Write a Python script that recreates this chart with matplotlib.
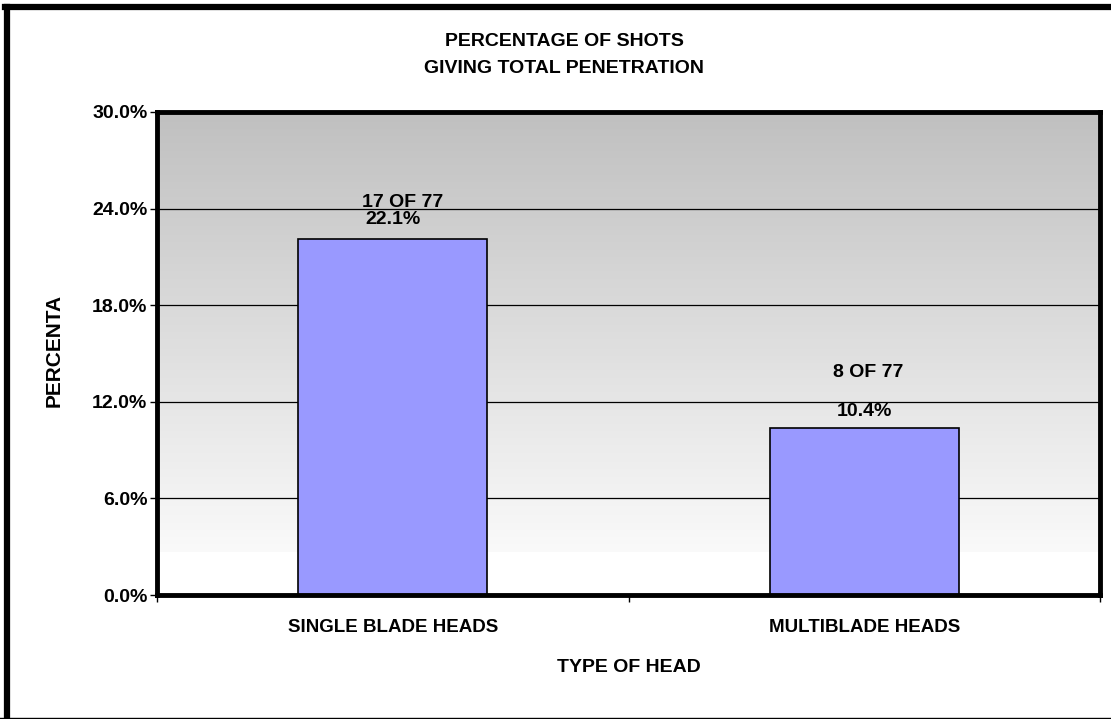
import numpy as np
import matplotlib.pyplot as plt
from matplotlib.ticker import FuncFormatter
from matplotlib.lines import Line2D

plt.rcParams['font.family'] = ['Liberation Sans', 'DejaVu Sans']
plt.rcParams['font.weight'] = 'bold'

# data
categories = ['SINGLE BLADE HEADS', 'MULTIBLADE HEADS']
percent = [22.1, 10.4]
count_labels = ['17 OF 77', '8 OF 77']

fig = plt.figure(figsize=(11.11, 7.19), dpi=100)
ax = fig.add_axes([157 / 1111, 1 - 595 / 719, 943 / 1111, 483 / 719])

# grey-to-white background, darker at the top, white near the base
steps = 200
pos = np.linspace(0, 1, steps).reshape(-1, 1)
shade = np.where(pos < 0.913, (192 + pos / 0.913 * 58) / 255, 1.0)
ax.imshow(np.dstack([shade, shade, shade]), aspect='auto', origin='upper',
          extent=[-0.5, 1.5, 0, 30], zorder=0, interpolation='nearest')

x = np.arange(len(categories))
ax.bar(x, percent, width=0.4, color='#9999ff', edgecolor='black',
       linewidth=1.2, zorder=3)

# value and count labels above each bar
pct_offset = [1.2, 1.0]
count_offset = [2.25, 3.4]
count_shift = [0.02, 0.008]
for xi, p, c, po, co, cs in zip(x, percent, count_labels, pct_offset,
                                count_offset, count_shift):
    ax.text(xi, p + po, f'{p:.1f}%', ha='center', va='center',
            fontsize=14, fontweight='bold', zorder=4)
    ax.text(xi + cs, p + co, c, ha='center', va='center',
            fontsize=14, fontweight='bold', zorder=4)

ax.set_xlim(-0.5, 1.5)
ax.set_ylim(0, 30)
ax.set_yticks(np.arange(0, 31, 6))
ax.yaxis.set_major_formatter(FuncFormatter(lambda v, _: f'{v:.1f}%'))
ax.set_xticks(x)
ax.set_xticklabels(categories)
ax.set_xticks([-0.5, 0.5, 1.5], minor=True)
ax.tick_params(axis='x', which='major', length=0, pad=17, labelsize=13.5)
ax.tick_params(axis='x', which='minor', length=5, width=1, direction='out')
ax.tick_params(axis='y', length=5, width=1, pad=2, labelsize=14)
for lbl in ax.get_xticklabels() + ax.get_yticklabels():
    lbl.set_fontweight('bold')

ax.yaxis.grid(True, color='black', linewidth=0.9, zorder=1)
ax.set_axisbelow(True)
for s in ax.spines.values():
    s.set_linewidth(3.5)
    s.set_zorder(5)

ax.set_xlabel('TYPE OF HEAD', fontsize=14, fontweight='bold', labelpad=17)
ax.set_ylabel('PERCENTA', fontsize=15, fontweight='bold')
ax.yaxis.set_label_coords(-0.0995, 0.507)

fig.text(564 / 1111, 1 - 55 / 719,
         'PERCENTAGE OF SHOTS\nGIVING TOTAL PENETRATION',
         ha='center', va='center', fontsize=14, fontweight='bold',
         linespacing=1.7)

# outer chart frame
fig.add_artist(Line2D([7 / 1111, 7 / 1111], [0, 1 - 7 / 719],
                      transform=fig.transFigure, color='black', linewidth=4.5))
fig.add_artist(Line2D([5 / 1111, 1], [1 - 7 / 719, 1 - 7 / 719],
                      transform=fig.transFigure, color='black', linewidth=4.5))
fig.add_artist(Line2D([0, 1], [1.5 / 719, 1.5 / 719],
                      transform=fig.transFigure, color='black', linewidth=1))

fig.savefig('out.png', dpi=100)
